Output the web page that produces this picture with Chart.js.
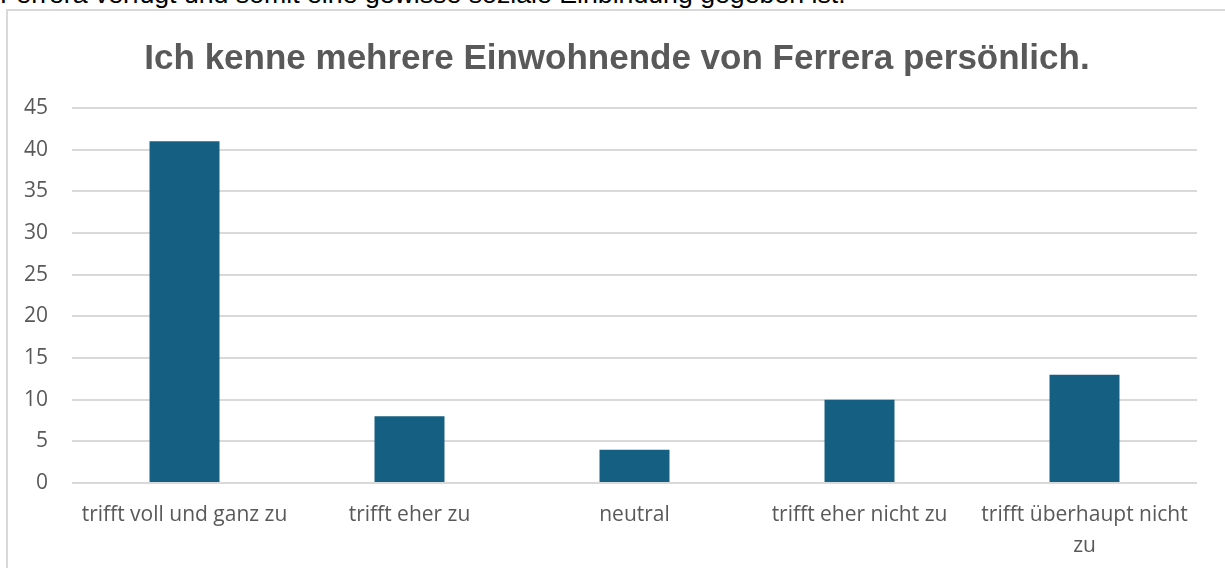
<!DOCTYPE html>
<html>
<head>
<meta charset="utf-8">
<script src="https://cdn.jsdelivr.net/npm/chart.js@4"></script>
<style>
  html, body { margin: 0; padding: 0; background: #fff; overflow: hidden; width: 1225px; height: 568px; }
  #lead { position: absolute; left: 0; top: -21px; font: 26.7px "Liberation Sans", Arial, sans-serif; line-height: 30px; color: #000; white-space: nowrap; }
  #box { position: absolute; left: 6px; top: 9px; width: 1240px; height: 600px; border: 2px solid #d9d9d9; box-sizing: border-box; }
  #wrap { position: absolute; left: 8px; top: 11px; width: 1218px; height: 557px; }
</style>
</head>
<body>
<div id="lead">Ferrera verfügt und somit eine gewisse soziale Einbindung gegeben ist.</div>
<div id="box"></div>
<div id="wrap"><canvas id="chart"></canvas></div>
<script>
var categories = ["trifft voll und ganz zu", "trifft eher zu", "neutral", "trifft eher nicht zu", ["trifft überhaupt nicht", "zu"]];
var answers = [41, 8, 4, 10, 13];
var yTicks = [0, 5, 10, 15, 20, 25, 30, 35, 40, 45];

var grey = '#595959';
var ctx = document.getElementById('chart').getContext('2d');
var chart = new Chart(ctx, {
    type: 'bar',
    data: {
        labels: categories,
        datasets: [{
            label: 'Antworten',
            data: answers,
            backgroundColor: '#156082',
            borderWidth: 0,
            barPercentage: 1,
            categoryPercentage: 0.311
        }]
    },
    options: {
        responsive: true,
        maintainAspectRatio: false,
        animation: false,
        layout: {
            padding: { left: 0, right: 0, top: 0, bottom: 0 }
        },
        plugins: {
            legend: { display: false },
            tooltip: { enabled: false },
            title: {
                display: true,
                text: 'Ich kenne mehrere Einwohnende von Ferrera persönlich.',
                color: grey,
                font: { family: '"Liberation Sans", Arial, sans-serif', size: 35, weight: 'bold', lineHeight: 1.2 },
                padding: { top: 27.5, bottom: 27.5 }
            }
        },
        scales: {
            x: {
                grid: { display: false, drawTicks: false },
                border: { display: false },
                ticks: {
                    color: grey,
                    padding: 16,
                    maxRotation: 0,
                    autoSkip: false,
                    font: { family: '"Open Sans", sans-serif', size: 21, lineHeight: 1.48 }
                },
                afterFit: function (scale) { scale.height = 85; }
            },
            y: {
                min: 0,
                max: 45,
                afterBuildTicks: function (scale) {
                    scale.ticks = yTicks.map(function (v) { return { value: v }; });
                },
                grid: { color: '#d9d9d9', lineWidth: 2, drawTicks: false },
                border: { display: false },
                ticks: {
                    color: grey,
                    padding: 24,
                    font: { family: '"Open Sans", sans-serif', size: 21 }
                },
                afterFit: function (scale) { scale.width = 64; }
            },
            // empty right margin so the title sits centred on the frame
            spacer: {
                position: 'right',
                min: 0,
                max: 45,
                grid: { display: false, drawTicks: false },
                border: { display: false },
                ticks: { display: false },
                afterFit: function (scale) { scale.width = 29; }
            }
        }
    }
});
</script>
</body>
</html>
